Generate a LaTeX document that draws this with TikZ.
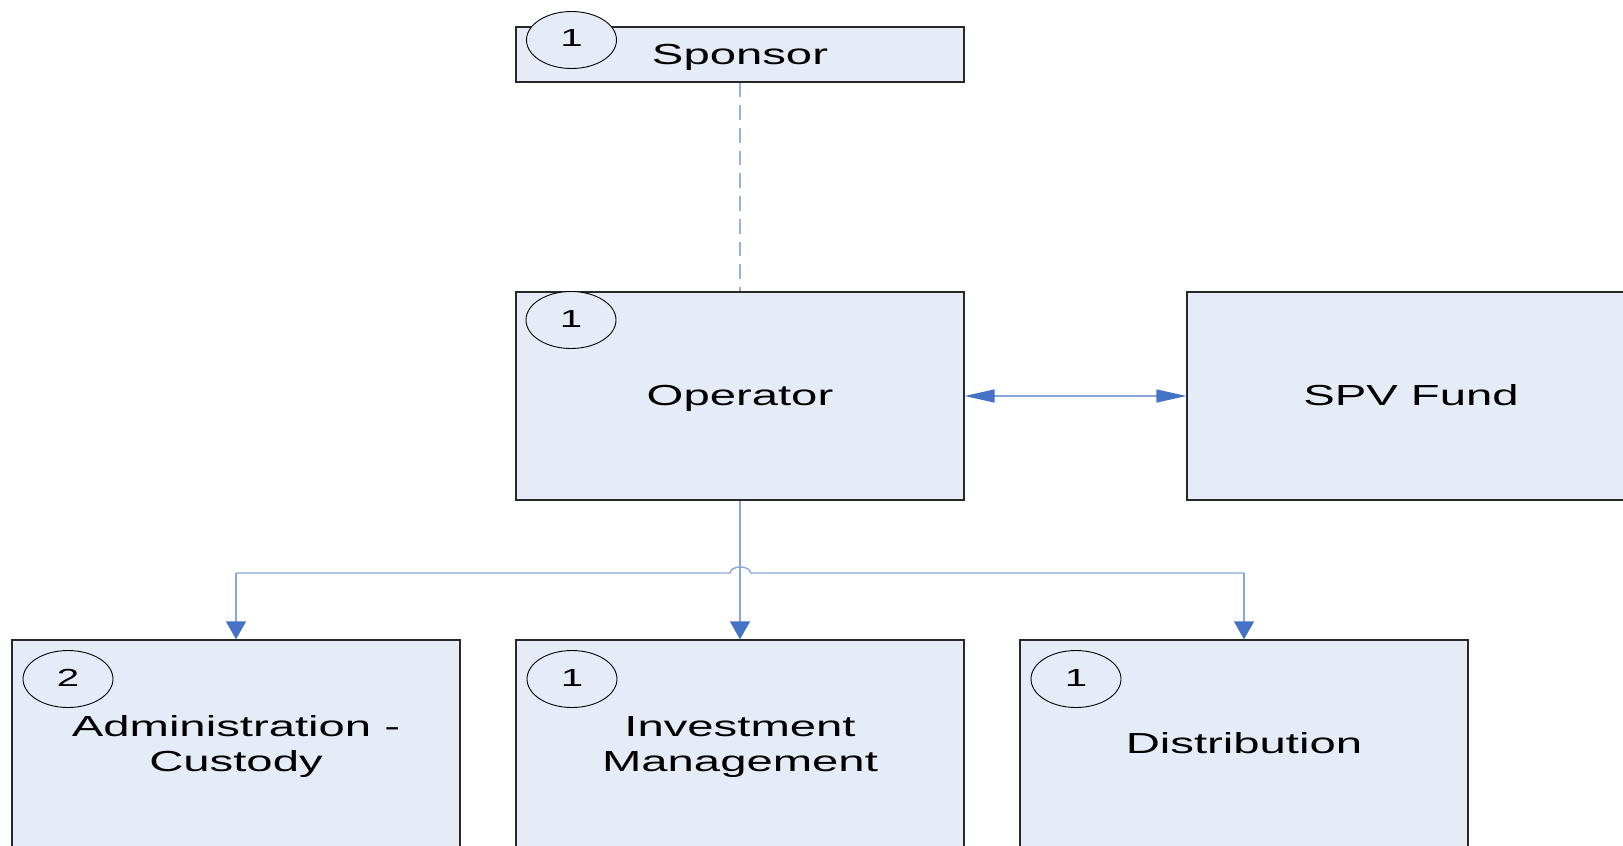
\documentclass[tikz,border=0pt]{standalone}
\usepackage{fontspec}
\newfontfamily\diagfont[FakeStretch=1.63]{Liberation Sans}
\usetikzlibrary{arrows.meta,shapes.geometric}
\definecolor{boxfill}{RGB}{230,236,247}
\definecolor{linkblue}{RGB}{137,167,219}
\definecolor{dashblue}{RGB}{149,179,222}
\definecolor{tipblue}{RGB}{68,114,196}
\definecolor{boxline}{RGB}{40,40,40}
\begin{document}
\begin{tikzpicture}[x=1pt,y=-1pt,
  box/.style={draw=boxline,line width=1.3pt,fill=boxfill,rectangle,inner sep=0pt,minimum width=448pt},
  numoval/.style={draw=black,line width=0.9pt,fill=boxfill,ellipse,inner sep=0pt,minimum width=90pt,minimum height=57pt,font=\diagfont\fontsize{24.7}{28}\selectfont},
  lbl/.style={anchor=base,inner sep=0pt,font=\diagfont\fontsize{29}{35}\selectfont},
  conn/.style={draw=linkblue,line width=1.4pt},
  dashconn/.style={draw=dashblue,line width=1.4pt,dash pattern=on 14.7pt off 8pt},
  vtip/.tip={Triangle[length=18pt,width=20pt,color=tipblue]},
  htip/.tip={Triangle[length=30pt,width=13pt,color=tipblue]}
]
\useasboundingbox (0,0) rectangle (1623,846);
\clip (0,0) rectangle (1623,846);

% boxes
\node[box,minimum height=55pt] (sponsor) at (740,54.5) {};
\node[box,minimum height=208pt] (operator) at (740,396) {};
\node[box,minimum height=208pt] (spv) at (1411,396) {};
\node[box,minimum height=208pt] (admin) at (236,744) {};
\node[box,minimum height=208pt] (invest) at (740,744) {};
\node[box,minimum height=208pt] (distrib) at (1244,744) {};

% number ovals
\node[numoval] (sponsorN) at (571.5,40) {\raisebox{3pt}{1}};
\node[numoval] (operatorN) at (571,320) {\raisebox{2pt}{1}};
\node[numoval] (adminN) at (68,679) {\raisebox{2pt}{2}};
\node[numoval] (investN) at (572,679) {\raisebox{2pt}{1}};
\node[numoval] (distribN) at (1076,679) {\raisebox{2pt}{1}};

% labels
\node[lbl] (sponsorT) at (740,64.5) {Sponsor};
\node[lbl] (operatorT) at (740,405) {Operator};
\node[lbl] (spvT) at (1411,405) {SPV Fund};
\node[lbl] (adminT1) at (236,736) {Administration -};
\node[lbl] (adminT2) at (236,771) {Custody};
\node[lbl] (investT1) at (740,736) {Investment};
\node[lbl] (investT2) at (740,771) {Management};
\node[lbl] (distribT) at (1244,753) {Distribution};

% connectors
\draw[dashconn] (sponsor.south) -- (operator.north);
\draw[conn,htip-htip] (operator.east) -- (spv.west);
\draw[conn,-vtip] (operator.south) -- (invest.north);
\coordinate (hopL) at (730,573);
\coordinate (hopR) at (750.7,573);
\coordinate (busL) at (admin.north |- hopL);
\coordinate (busR) at (distrib.north |- hopL);
\draw[conn] (busL) -- (hopL) .. controls (731,565) and (749.7,565) .. (hopR) -- (busR);
\draw[conn,-vtip] (busL) -- (admin.north);
\draw[conn,-vtip] (busR) -- (distrib.north);
\end{tikzpicture}
\end{document}
